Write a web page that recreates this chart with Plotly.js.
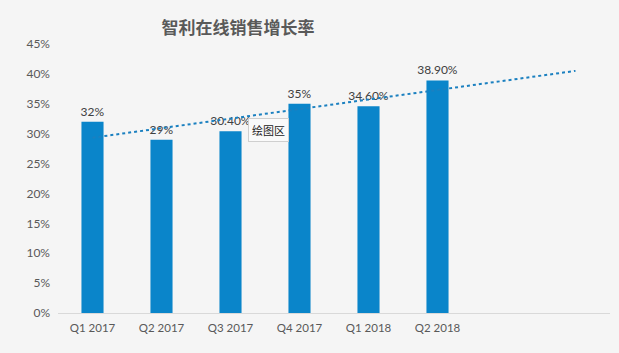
<!DOCTYPE html>
<html>
<head>
<meta charset="utf-8">
<script src="https://cdn.plot.ly/plotly-3.0.1.min.js"></script>
<style>html,body{margin:0;padding:0;background:#f5f5f5;}#chart{width:619px;height:353px;}</style>
</head>
<body>
<div id="chart"></div>
<script>
const categories = ["Q1 2017", "Q2 2017", "Q3 2017", "Q4 2017", "Q1 2018", "Q2 2018"];
const growth = [32, 29, 30.4, 35, 34.6, 38.9];
const barLabels = ["32%", "29%", "30.40%", "35%", "34.60%", "38.90%"];
const forecastPeriods = 2;
const yTicks = [0, 5, 10, 15, 20, 25, 30, 35, 40, 45];

const xs = categories.map((_, i) => i);
// linear trendline (least squares), extended forward like the original
const n = growth.length;
const mx = xs.reduce((a, b) => a + b, 0) / n;
const my = growth.reduce((a, b) => a + b, 0) / n;
let sxy = 0, sxx = 0;
xs.forEach((x, i) => { sxy += (x - mx) * (growth[i] - my); sxx += (x - mx) * (x - mx); });
const slope = sxy / sxx;
const icpt = my - slope * mx;
const tx = [0, n - 1 + forecastPeriods];
const ty = tx.map(x => icpt + slope * x);

const font = "Lato, 'Open Sans', 'Noto Sans', sans-serif";
const data = [
  {
    type: "scatter", mode: "lines", x: tx, y: ty,
    line: {color: "#1B80C0", width: 2, dash: "dot"},
    hoverinfo: "skip"
  },
  {
    type: "bar", x: xs, y: growth, width: 0.32,
    marker: {color: "#0A85CA"},
    text: barLabels, textposition: "outside", cliponaxis: false,
    constraintext: "none",
    textfont: {family: font, size: 12, color: "#404040"},
    hoverinfo: "skip"
  }
];

const layout = {
  width: 619, height: 353,
  paper_bgcolor: "#f5f5f5", plot_bgcolor: "#f5f5f5",
  margin: {l: 58, r: 9, t: 44, b: 40},
  showlegend: false,
  font: {family: font, color: "#595959", size: 12},
  title: {
    text: "智利在线销售增长率",
    font: {family: "'Noto Sans CJK SC', sans-serif", size: 17, color: "#595959", weight: "bold"},
    x: 238 / 619, xanchor: "center", y: 1 - 28 / 353, yanchor: "middle"
  },
  xaxis: {
    range: [-0.5, n - 0.5 + forecastPeriods],
    tickvals: xs, ticktext: categories,
    showgrid: false, zeroline: false,
    showline: true, linecolor: "#d9d9d9", linewidth: 1,
    ticks: "", ticklabelstandoff: 4,
    tickfont: {family: font, size: 11.5, color: "#595959"},
    fixedrange: true
  },
  yaxis: {
    range: [0, 45],
    tickvals: yTicks, ticktext: yTicks.map(v => v + "%"),
    showgrid: false, zeroline: false, showline: false,
    ticks: "", ticklabelstandoff: 7,
    tickfont: {family: font, size: 12, color: "#595959"},
    fixedrange: true
  },
  annotations: [{
    text: "绘图区", xref: "paper", yref: "paper",
    x: (268 - 58) / 552, y: (313 - 130) / 269, xanchor: "center", yanchor: "middle",
    showarrow: false,
    font: {family: "'Noto Sans CJK SC', sans-serif", size: 11, color: "#222"},
    bgcolor: "#fafafa", bordercolor: "#cfcfcf", borderwidth: 1, borderpad: 3
  }]
};

Plotly.newPlot("chart", data, layout, {displayModeBar: false, staticPlot: true});
</script>
</body>
</html>
